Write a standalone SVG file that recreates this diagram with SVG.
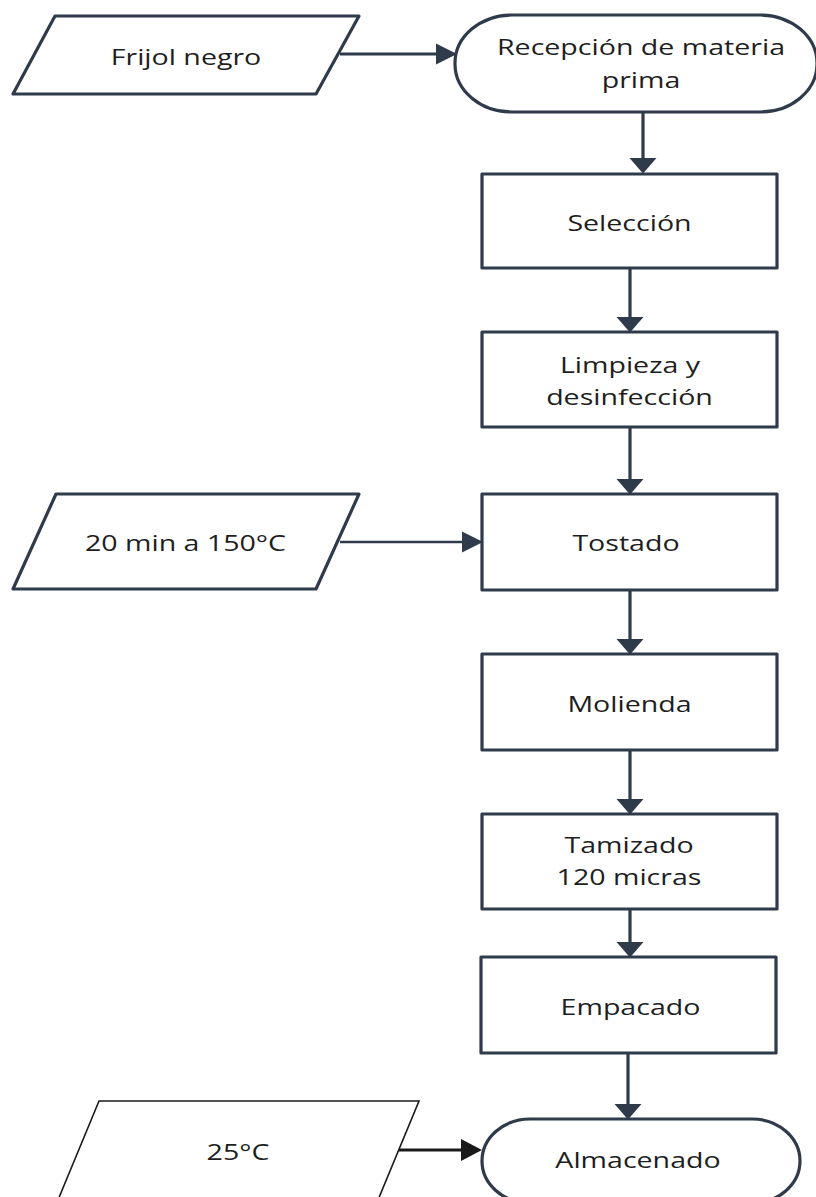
<svg xmlns="http://www.w3.org/2000/svg" width="816" height="1197" viewBox="0 0 816 1197">
<style>
.shape{fill:#ffffff;stroke:#2f3a4a;stroke-width:3.2;stroke-linejoin:round}
.thin{fill:#ffffff;stroke:#1a1a1a;stroke-width:1.6}
.conn{fill:none;stroke:#2f3a4a;stroke-width:3.2}
.connk{fill:none;stroke:#1a1a1a;stroke-width:3.2}
.lbl{font-family:"Open Sans","Noto Sans",sans-serif;font-size:22.5px;fill:#1e1e1e;text-anchor:middle}
</style>
<defs>
<marker id="aV" markerUnits="userSpaceOnUse" markerWidth="16" markerHeight="28" refX="0" refY="13.5" orient="auto" overflow="visible"><path d="M0,0 L15.5,13.5 L0,27 Z" fill="#2f3a4a"/></marker>
<marker id="aH" markerUnits="userSpaceOnUse" markerWidth="22" markerHeight="22" refX="0" refY="10.5" orient="auto" overflow="visible"><path d="M0,0 L21,10.5 L0,21 Z" fill="#2f3a4a"/></marker>
<marker id="aK" markerUnits="userSpaceOnUse" markerWidth="22" markerHeight="24" refX="0" refY="11" orient="auto" overflow="visible"><path d="M0,0 L21,11 L0,22 Z" fill="#1a1a1a"/></marker>
</defs>
<rect width="816" height="1197" fill="#ffffff"/>
<g id="connectors">
<line class="conn" x1="340" y1="54" x2="436" y2="54" marker-end="url(#aH)"/>
<line class="conn" x1="643" y1="112" x2="643" y2="158" marker-end="url(#aV)"/>
<line class="conn" x1="630" y1="268" x2="630" y2="317" marker-end="url(#aV)"/>
<line class="conn" x1="630" y1="427" x2="630" y2="479" marker-end="url(#aV)"/>
<line class="conn" x1="340" y1="542" x2="462" y2="542" marker-end="url(#aH)" style="stroke-width:2.6"/>
<line class="conn" x1="630" y1="590" x2="630" y2="639" marker-end="url(#aV)"/>
<line class="conn" x1="630" y1="750" x2="630" y2="799" marker-end="url(#aV)"/>
<line class="conn" x1="630" y1="909" x2="630" y2="942" marker-end="url(#aV)"/>
<line class="conn" x1="628" y1="1053" x2="628" y2="1104" marker-end="url(#aV)"/>
<line class="connk" x1="399" y1="1150" x2="461" y2="1150" marker-end="url(#aK)"/>
</g>
<g id="n-frijol">
<polygon class="shape" points="55,16 359,16 316,94 13,94"/>
<text class="lbl" transform="translate(186,65) scale(1.27,1)">Frijol negro</text>
</g>
<g id="n-recepcion">
<rect class="shape" x="455" y="15" width="362" height="97" rx="57" ry="48"/>
<text class="lbl" transform="translate(641,55) scale(1.27,1)">Recepción de materia</text>
<text class="lbl" transform="translate(641,88) scale(1.27,1)">prima</text>
</g>
<g id="n-seleccion">
<rect class="shape" x="482" y="174" width="295" height="94"/>
<text class="lbl" transform="translate(629.5,231) scale(1.27,1)">Selección</text>
</g>
<g id="n-limpieza">
<rect class="shape" x="482" y="332" width="295" height="95"/>
<text class="lbl" transform="translate(630,373) scale(1.27,1)">Limpieza y</text>
<text class="lbl" transform="translate(629.5,405) scale(1.27,1)">desinfección</text>
</g>
<g id="n-temp1">
<polygon class="shape" points="56,494 359,494 316,589 13,589"/>
<text class="lbl" transform="translate(185.5,551) scale(1.27,1)">20 min a 150°C</text>
</g>
<g id="n-tostado">
<rect class="shape" x="482" y="494" width="295" height="96"/>
<text class="lbl" transform="translate(626,551) scale(1.27,1)">Tostado</text>
</g>
<g id="n-molienda">
<rect class="shape" x="482" y="654" width="295" height="96"/>
<text class="lbl" transform="translate(629.5,712) scale(1.27,1)">Molienda</text>
</g>
<g id="n-tamizado">
<rect class="shape" x="482" y="814" width="295" height="95"/>
<text class="lbl" transform="translate(629,853) scale(1.27,1)">Tamizado</text>
<text class="lbl" transform="translate(629,885) scale(1.27,1)">120 micras</text>
</g>
<g id="n-empacado">
<rect class="shape" x="481" y="957" width="295" height="96"/>
<text class="lbl" transform="translate(630.5,1015) scale(1.27,1)">Empacado</text>
</g>
<g id="n-temp2">
<polygon class="thin" points="99,1101 419,1101 378,1200 58,1200"/>
<text class="lbl" transform="translate(238,1160) scale(1.27,1)">25°C</text>
</g>
<g id="n-almacenado">
<rect class="shape" x="482" y="1119" width="318" height="84" rx="48" ry="42"/>
<text class="lbl" transform="translate(638,1168) scale(1.27,1)">Almacenado</text>
</g>
</svg>
